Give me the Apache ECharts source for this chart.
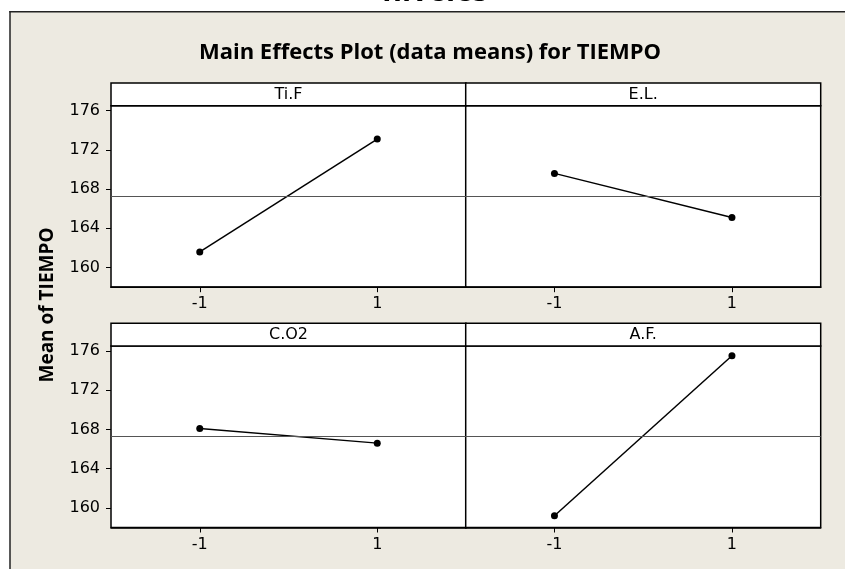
<!DOCTYPE html>
<html>
<head>
<meta charset="utf-8">
<script src="https://cdn.jsdelivr.net/npm/echarts@6/dist/echarts.min.js"></script>
<style>
  html, body { margin: 0; padding: 0; background: #fff; }
  #chart { width: 845px; height: 569px; }
</style>
</head>
<body>
<div id="chart"></div>
<script>
// Factor levels and panel names
const levels = ['-1', '1'];
const factors = ['Ti.F', 'E.L.', 'C.O2', 'A.F.'];

// Mean of TIEMPO at each level of each factor
const tiF = [161.6, 173.1];
const eL  = [169.6, 165.1];
const cO2 = [168.1, 166.6];
const aF  = [159.2, 175.5];
const grandMean = 167.3;

// Shared y scale and its tick labels
const yTicks = [160, 164, 168, 172, 176];
const yMin = 158;
const yMax = 176.5;

const panelValues = [tiF, eL, cO2, aF];

// Panel geometry (pixels)
const colLeft = [111, 465.7];
const colWidth = 355;
const rowTop = [105.7, 346];
const plotHeight = 181.5;
const stripHeight = 22.7;

const bg = '#EDEAE1';
const fontReg = '"DejaVu Sans", sans-serif';
const fontBold = '"Open Sans", "DejaVu Sans", sans-serif';

const chart = echarts.init(document.getElementById('chart'), null, { renderer: 'canvas' });

const grids = [], xAxes = [], yAxes = [], series = [], graphics = [];

// white margin outside the framed area, with the cut-off heading above
graphics.push({ type: 'rect', shape: { x: 0, y: 0, width: 845, height: 11.5 }, style: { fill: '#fff' }, silent: true, z: 1 });
graphics.push({ type: 'rect', shape: { x: 0, y: 0, width: 10, height: 569 }, style: { fill: '#fff' }, silent: true, z: 1 });
graphics.push({
  type: 'text', x: 435, y: -22.5, z: 2,
  style: { text: 'niveles', font: 'bold 30px ' + fontBold, fill: '#000', textAlign: 'center', textVerticalAlign: 'top' },
  silent: true
});
graphics.push({ type: 'line', shape: { x1: 9.3, y1: 11.7, x2: 845, y2: 11.7 }, style: { stroke: '#222', lineWidth: 1.5 }, silent: true, z: 3 });
graphics.push({ type: 'line', shape: { x1: 10, y1: 11, x2: 10, y2: 569 }, style: { stroke: '#222', lineWidth: 1.5 }, silent: true, z: 3 });

// main title
graphics.push({
  type: 'text', x: 430, y: 52.5,
  style: { text: 'Main Effects Plot (data means) for TIEMPO', font: 'bold 22px ' + fontBold, fill: '#000', textAlign: 'center', textVerticalAlign: 'middle' },
  silent: true
});

// y axis title
graphics.push({
  type: 'text', x: 48, y: 305, rotation: Math.PI / 2,
  style: { text: 'Mean of TIEMPO', font: 'bold 19px ' + fontBold, fill: '#000', textAlign: 'center', textVerticalAlign: 'middle' },
  silent: true
});

factors.forEach(function (name, i) {
  const col = i % 2, row = Math.floor(i / 2);
  const left = colLeft[col], top = rowTop[row];

  grids.push({
    left: left, top: top, width: colWidth, height: plotHeight,
    show: true, backgroundColor: '#fff', borderColor: '#000', borderWidth: 1.5
  });

  xAxes.push({
    type: 'category', gridIndex: i, data: levels, boundaryGap: true,
    axisLine: { show: true, lineStyle: { color: '#000', width: 1.5 } },
    axisTick: { show: true, alignWithLabel: true, length: 5, lineStyle: { color: '#000', width: 1 } },
    axisLabel: { color: '#000', fontSize: 16, fontFamily: fontReg, margin: 9 },
    splitLine: { show: false }
  });

  const leftCol = col === 0;
  yAxes.push({
    type: 'value', gridIndex: i, min: yMin, max: yMax,
    axisLine: { show: false },
    axisTick: leftCol
      ? { show: true, length: 5, customValues: yTicks, lineStyle: { color: '#000', width: 1 } }
      : { show: false },
    axisLabel: leftCol
      ? { show: true, customValues: yTicks, color: '#000', fontSize: 16, fontFamily: fontReg, margin: 11 }
      : { show: false },
    splitLine: { show: false }
  });

  series.push({
    type: 'line', xAxisIndex: i, yAxisIndex: i,
    data: panelValues[i],
    symbol: 'circle', symbolSize: 7,
    itemStyle: { color: '#000' },
    lineStyle: { color: '#000', width: 1.5 },
    animation: false,
    markLine: {
      silent: true, symbol: 'none', animation: false,
      label: { show: false },
      lineStyle: { color: '#555', width: 1.2, type: 'solid' },
      data: [{ yAxis: grandMean }]
    }
  });

  // factor name strip above each panel
  graphics.push({
    type: 'rect',
    shape: { x: left, y: top - stripHeight, width: colWidth, height: stripHeight },
    style: { fill: '#fff', stroke: '#000', lineWidth: 1.5 },
    silent: true
  });
  graphics.push({
    type: 'text', x: left + colWidth / 2, y: top - stripHeight / 2 + 0.5,
    style: { text: name, font: '16px ' + fontReg, fill: '#000', textAlign: 'center', textVerticalAlign: 'middle' },
    silent: true
  });
});

chart.setOption({
  backgroundColor: bg,
  animation: false,
  grid: grids,
  xAxis: xAxes,
  yAxis: yAxes,
  series: series,
  graphic: { elements: graphics }
});
</script>
</body>
</html>
